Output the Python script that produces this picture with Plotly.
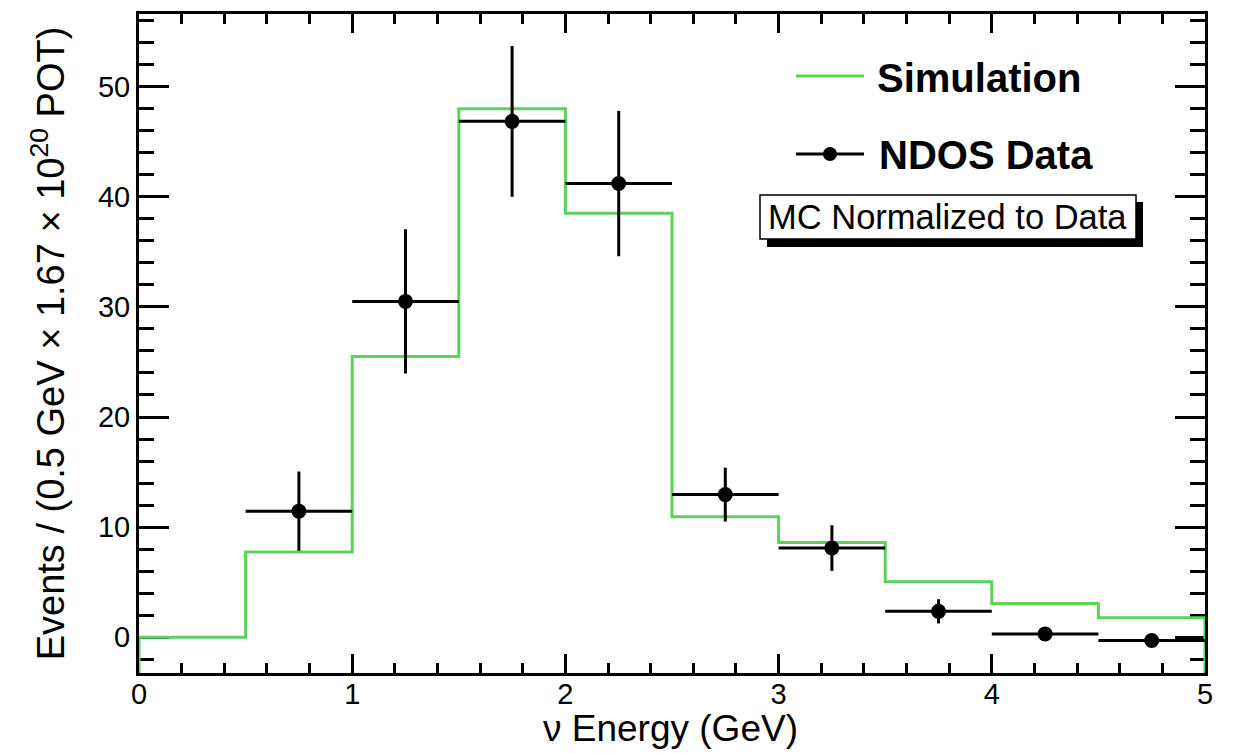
import plotly.graph_objects as go

# Binning (GeV) and contents
bin_edges = [0.0, 0.5, 1.0, 1.5, 2.0, 2.5, 3.0, 3.5, 4.0, 4.5, 5.0]
sim_counts = [0.0, 7.75, 25.5, 48.0, 38.5, 10.95, 8.6, 5.03, 3.06, 1.76]

data_x = [0.75, 1.25, 1.75, 2.25, 2.75, 3.25, 3.75, 4.25, 4.75]
data_y = [11.45, 30.5, 46.85, 41.2, 12.95, 8.1, 2.35, 0.3, -0.3]
data_err = [3.6, 6.55, 6.85, 6.6, 2.45, 2.07, 1.1, 0.5, 0.5]
half_bin = 0.25

x_range = [0, 5]
y_range = [-3.25, 56.6]

FONT = "Liberation Sans, Arial, Helvetica, sans-serif"
GREEN = "#5BD25A"

# Histogram outline: rise from the frame bottom at the first edge, drop back at the last
hist_x = [bin_edges[0]] + bin_edges + [bin_edges[-1]]
hist_y = [y_range[0]] + sim_counts + [sim_counts[-1], y_range[0]]

fig = go.Figure()
fig.add_trace(go.Scatter(
    x=hist_x, y=hist_y, mode="lines", line_shape="hv",
    line=dict(color=GREEN, width=3), hoverinfo="skip", showlegend=False,
))
fig.add_trace(go.Scatter(
    x=data_x, y=data_y, mode="markers",
    marker=dict(color="black", size=15),
    error_y=dict(type="data", array=data_err, color="black", thickness=3, width=0),
    error_x=dict(type="constant", value=half_bin, color="black", thickness=3, width=0),
    showlegend=False,
))

# Plot area in pixels, used to place the legend block and the x title
L, R, T, B = 139, 1205, 14, 673
W, H = R - L, B - T


def px(x):
    return (x - L) / W


def py(y):
    return (B - y) / H


# Legend block
fig.add_shape(type="line", xref="paper", yref="paper",
              x0=px(796), x1=px(864), y0=py(76), y1=py(76),
              line=dict(color=GREEN, width=3))
fig.add_shape(type="line", xref="paper", yref="paper",
              x0=px(796), x1=px(864), y0=py(154), y1=py(154),
              line=dict(color="black", width=3))
fig.add_shape(type="circle", xref="paper", yref="paper",
              x0=px(823), x1=px(837), y0=py(147), y1=py(161),
              fillcolor="black", line=dict(color="black", width=0))
fig.add_annotation(xref="paper", yref="paper", x=px(875), y=py(78),
                   text="<b>Simulation</b>", showarrow=False, xanchor="left", yanchor="middle",
                   font=dict(family=FONT, size=40, color="black"))
fig.add_annotation(xref="paper", yref="paper", x=px(877), y=py(155),
                   text="<b>NDOS Data</b>", showarrow=False, xanchor="left", yanchor="middle",
                   font=dict(family=FONT, size=40, color="black"))

# "MC Normalized to Data" box with drop shadow
fig.add_shape(type="rect", xref="paper", yref="paper",
              x0=px(767), x1=px(1143), y0=py(202), y1=py(247),
              fillcolor="black", line=dict(width=0))
fig.add_shape(type="rect", xref="paper", yref="paper",
              x0=px(760), x1=px(1136), y0=py(195), y1=py(239),
              fillcolor="white", line=dict(color="black", width=1.5))
fig.add_annotation(xref="paper", yref="paper", x=px(947), y=py(217),
                   text="MC Normalized to Data", showarrow=False,
                   xanchor="center", yanchor="middle",
                   font=dict(family=FONT, size=34.5, color="black"))

# x-axis title
fig.add_annotation(xref="paper", yref="paper", x=px(670), y=py(729),
                   text="ν Energy (GeV)", showarrow=False,
                   xanchor="center", yanchor="middle",
                   font=dict(family=FONT, size=37, color="black"))

axis_common = dict(
    showgrid=False, zeroline=False, showline=True, linecolor="black", linewidth=3,
    mirror="allticks", ticks="inside", tickcolor="black", tickwidth=2.5,
    tickfont=dict(family=FONT, size=29, color="black"), layer="below traces",
    automargin=False,
)

fig.update_xaxes(
    range=x_range, dtick=1, tick0=0, ticklen=19, ticklabelstandoff=-7,
    minor=dict(dtick=0.2, ticklen=10, tickwidth=2.5, tickcolor="black", ticks="inside"),
    **axis_common,
)
fig.update_yaxes(
    range=y_range, dtick=10, tick0=0, ticklen=30,
    minor=dict(dtick=2, ticklen=15, tickwidth=2.5, tickcolor="black", ticks="inside"),
    title=dict(text="Events / (0.5 GeV × 1.67 × 10<sup>20</sup> POT)",
               font=dict(family=FONT, size=38, color="black"), standoff=22),
    **axis_common,
)

fig.update_layout(
    width=1233, height=753,
    margin=dict(l=L, r=1233 - R, t=T, b=753 - B),
    paper_bgcolor="white", plot_bgcolor="white",
    showlegend=False,
)

fig.write_html("out.html")
